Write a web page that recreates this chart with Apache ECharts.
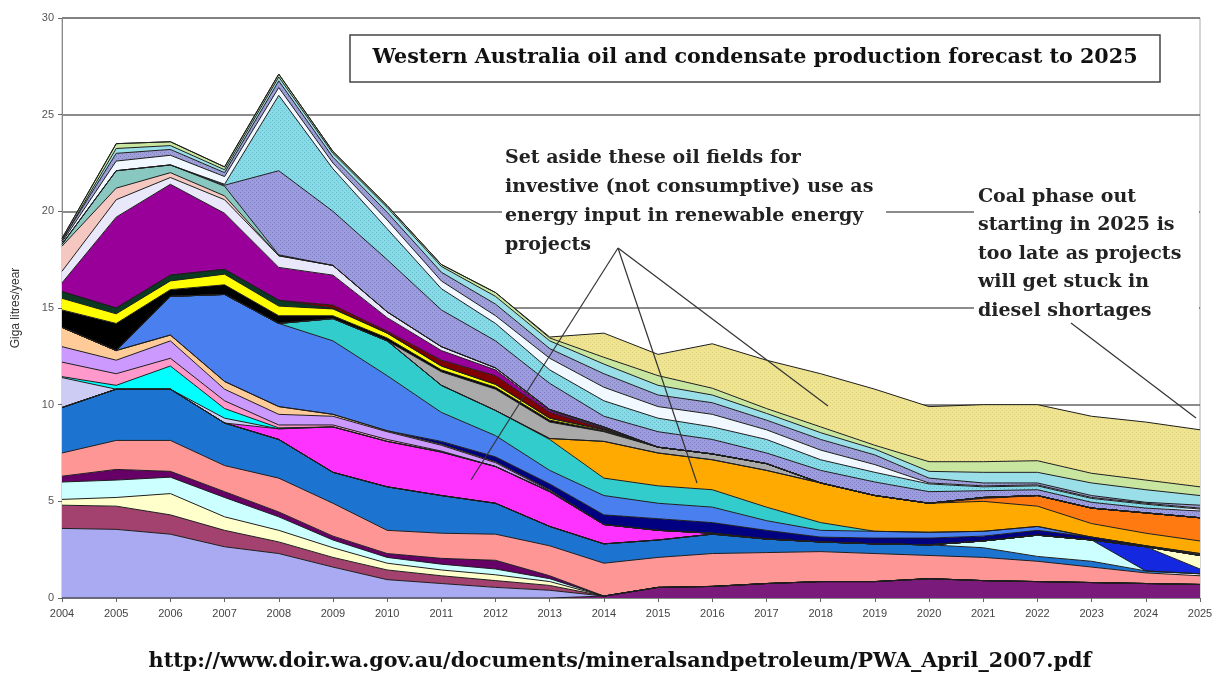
<!DOCTYPE html>
<html><head><meta charset="utf-8">
<script src="https://cdn.jsdelivr.net/npm/echarts@6/dist/echarts.min.js"></script>
<style>html,body{margin:0;padding:0;background:#fff}#c{width:1226px;height:677px}</style>
</head><body><div id="c"></div>
<script>
// Categories
const years = ['2004','2005','2006','2007','2008','2009','2010','2011','2012','2013','2014','2015','2016','2017','2018','2019','2020','2021','2022','2023','2024','2025'];
const yTickValues = [0,5,10,15,20,25,30];

// Cumulative top of each stacked field band (Giga litres/year), bottom band first
const purple2Top = [0,0,0,0,0,0,0,0,0,0,0.1,0.55,0.6,0.75,0.85,0.85,1.0,0.9,0.85,0.8,0.75,0.7];
const lavenderTop = [3.6,3.55,3.3,2.65,2.3,1.6,0.95,0.75,0.55,0.4,0.1,0.55,0.6,0.75,0.85,0.85,1.0,0.9,0.85,0.8,0.75,0.7];
const mauveTop = [4.8,4.75,4.3,3.5,2.9,2.1,1.45,1.15,0.9,0.65,0.1,0.55,0.6,0.75,0.85,0.85,1.0,0.9,0.85,0.8,0.75,0.7];
const lightYellowTop = [5.1,5.2,5.4,4.2,3.5,2.6,1.8,1.45,1.2,0.85,0.1,0.55,0.6,0.75,0.85,0.85,1.0,0.9,0.85,0.8,0.75,0.7];
const lightCyanTop = [6.0,6.1,6.25,5.2,4.2,3.0,2.1,1.75,1.5,1.0,0.1,0.55,0.6,0.75,0.85,0.85,1.0,0.9,0.85,0.8,0.75,0.7];
const darkPurpleTop = [6.3,6.65,6.55,5.5,4.45,3.2,2.3,2.05,1.95,1.15,0.1,0.55,0.6,0.75,0.85,0.85,1.0,0.9,0.85,0.8,0.75,0.7];
const salmonTop = [7.5,8.15,8.15,6.85,6.2,4.9,3.5,3.35,3.3,2.7,1.8,2.1,2.3,2.35,2.4,2.3,2.2,2.1,1.9,1.6,1.3,1.15];
const mediumBlueTop = [9.85,10.8,10.8,9.05,8.2,6.5,5.75,5.3,4.9,3.7,2.8,3.0,3.3,3.05,2.9,2.8,2.75,2.6,2.15,1.9,1.4,1.25];
const lateCyanTop = [9.85,10.8,10.8,9.05,8.2,6.5,5.75,5.3,4.9,3.7,2.8,3.0,3.3,3.05,2.9,2.8,2.75,2.95,3.25,3.0,1.4,1.25];
const royalBlueTop = [9.85,10.8,10.8,9.05,8.2,6.5,5.75,5.3,4.9,3.7,2.8,3.0,3.3,3.05,2.9,2.8,2.75,2.95,3.25,3.0,2.65,1.5];
const lateYellowTop = [9.85,10.8,10.8,9.05,8.2,6.5,5.75,5.3,4.9,3.7,2.8,3.0,3.3,3.05,2.9,2.8,2.75,2.95,3.25,3.0,2.65,2.2];
const magentaTop = [9.85,10.8,10.8,9.05,8.75,8.85,8.1,7.55,6.8,5.5,3.8,3.5,3.35,3.05,2.9,2.8,2.75,2.95,3.25,3.0,2.65,2.2];
const paleLavenderTop = [11.4,10.8,10.8,9.3,8.75,8.85,8.1,7.55,6.8,5.5,3.8,3.5,3.35,3.05,2.9,2.8,2.75,2.95,3.25,3.0,2.65,2.2];
const cyanTop = [11.45,11.0,12.0,9.8,8.8,8.85,8.1,7.55,6.8,5.5,3.8,3.5,3.35,3.05,2.9,2.8,2.75,2.95,3.25,3.0,2.65,2.2];
const pinkTop = [12.2,11.6,12.4,10.2,8.95,8.95,8.2,7.6,6.8,5.5,3.8,3.5,3.35,3.05,2.9,2.8,2.75,2.95,3.25,3.0,2.65,2.2];
const lilacTop = [13.0,12.3,13.3,10.8,9.5,9.4,8.6,7.9,7.0,5.55,3.8,3.5,3.35,3.05,2.9,2.8,2.75,2.95,3.25,3.0,2.65,2.2];
const peachTop = [14.0,12.8,13.6,11.2,9.9,9.5,8.65,7.95,7.05,5.6,3.8,3.5,3.35,3.05,2.9,2.8,2.75,2.95,3.25,3.0,2.65,2.2];
const navyTop = [14.0,12.8,13.6,11.2,9.9,9.5,8.65,8.1,7.3,5.9,4.3,4.1,3.9,3.5,3.15,3.1,3.1,3.2,3.5,3.15,2.7,2.25];
const brightBlueTop = [14.0,12.8,15.6,15.7,14.2,13.3,11.5,9.6,8.4,6.6,5.3,4.9,4.7,4.0,3.5,3.45,3.4,3.45,3.7,3.15,2.7,2.3];
const tealTop = [14.0,12.8,15.6,15.7,14.2,14.45,13.3,11.0,9.7,8.2,6.2,5.8,5.6,4.7,3.9,3.45,3.4,3.45,3.7,3.15,2.7,2.3];
const orangeTop = [14.0,12.8,15.6,15.7,14.2,14.45,13.3,11.0,9.7,8.25,8.1,7.5,7.15,6.6,5.95,5.3,4.9,5.0,4.75,3.85,3.35,2.95];
const darkOrangeTop = [14.0,12.8,15.6,15.7,14.2,14.45,13.3,11.0,9.7,8.25,8.1,7.5,7.15,6.6,5.95,5.3,4.9,5.15,5.3,4.65,4.4,4.15];
const grayTop = [14.0,12.8,15.6,15.7,14.2,14.45,13.3,11.7,10.8,9.1,8.6,7.8,7.45,6.95,5.95,5.3,4.9,5.2,5.3,4.65,4.4,4.15];
const blackTop = [14.9,14.2,15.95,16.2,14.6,14.6,13.45,11.8,10.9,9.2,8.65,7.8,7.45,6.95,5.95,5.3,4.9,5.2,5.3,4.65,4.4,4.15];
const yellowTop = [15.5,14.7,16.4,16.75,15.1,14.95,13.7,12.0,11.05,9.3,8.7,7.8,7.45,6.95,5.95,5.3,4.9,5.2,5.3,4.65,4.4,4.15];
const darkGreenTop = [15.85,15.0,16.7,17.0,15.4,15.0,13.7,12.0,11.05,9.3,8.7,7.8,7.45,6.95,5.95,5.3,4.9,5.2,5.3,4.65,4.4,4.15];
const darkRedTop = [15.85,15.0,16.7,17.0,15.4,15.15,13.8,12.3,11.5,9.6,8.75,7.8,7.45,6.95,5.95,5.3,4.9,5.2,5.3,4.65,4.4,4.15];
const purpleTop = [16.3,19.7,21.4,19.9,17.1,16.7,14.5,12.8,11.8,9.7,8.8,7.8,7.45,6.95,5.95,5.3,4.9,5.2,5.3,4.65,4.4,4.15];
const whiteLavenderTop = [16.9,20.6,21.75,20.6,17.7,17.2,14.8,13.0,11.9,9.75,8.85,7.8,7.45,6.95,5.95,5.3,4.9,5.2,5.3,4.65,4.4,4.15];
const pinkPeachTop = [18.2,21.2,22.0,20.8,17.7,17.2,14.8,13.0,11.9,9.75,8.85,7.8,7.45,6.95,5.95,5.3,4.9,5.2,5.3,4.65,4.4,4.15];
const greyTealTop = [18.3,22.1,22.4,21.3,17.75,17.2,14.8,13.0,11.9,9.75,8.85,7.8,7.45,6.95,5.95,5.3,4.9,5.2,5.3,4.65,4.4,4.15];
const dottedLavenderTop = [18.3,22.1,22.4,21.35,22.1,20.0,17.5,14.9,13.3,11.1,9.4,8.6,8.2,7.5,6.6,6.0,5.5,5.55,5.6,4.95,4.65,4.5];
const dottedCyanTop = [18.3,22.1,22.4,21.4,26.0,22.2,19.1,16.0,14.2,11.8,10.2,9.3,8.85,8.2,7.15,6.5,5.9,5.75,5.8,5.15,4.85,4.6];
const whiteTop = [18.4,22.6,22.9,21.8,26.4,22.5,19.55,16.4,14.6,12.4,10.9,9.9,9.5,8.7,7.65,6.9,5.95,5.8,5.85,5.2,4.9,4.65];
const lavenderStripeTop = [18.5,23.0,23.2,22.0,26.75,22.8,19.95,16.85,15.2,12.9,11.6,10.5,10.1,9.2,8.2,7.4,6.2,5.95,5.95,5.3,4.95,4.8];
const cyanStripeTop = [18.5,23.25,23.4,22.15,26.95,23.0,20.2,17.15,15.6,13.3,12.1,11.0,10.5,9.55,8.55,7.7,6.55,6.5,6.5,5.95,5.6,5.3];
const greenStripeTop = [18.6,23.5,23.6,22.3,27.1,23.1,20.3,17.25,15.8,13.45,12.45,11.5,10.85,9.8,8.85,7.9,7.05,7.05,7.1,6.45,6.1,5.75];
const khakiTop = [18.6,23.5,23.6,22.3,27.1,23.1,20.3,17.25,15.8,13.5,13.7,12.6,13.15,12.3,11.6,10.8,9.9,10.0,10.0,9.4,9.1,8.7];

function pattern(base, dot) {
  const c = document.createElement('canvas'); c.width = 4; c.height = 4;
  const g = c.getContext('2d');
  g.fillStyle = base; g.fillRect(0, 0, 4, 4);
  g.fillStyle = dot; g.fillRect(0, 0, 1, 1); g.fillRect(2, 2, 1, 1);
  return { image: c, repeat: 'repeat' };
}

const layers = [
  ['Field 1', '#7a1a7a', purple2Top],
  ['Field 2', '#aaaaf2', lavenderTop],
  ['Field 3', '#a3426f', mauveTop],
  ['Field 4', '#ffffcc', lightYellowTop],
  ['Field 5', '#ccffff', lightCyanTop],
  ['Field 6', '#660066', darkPurpleTop],
  ['Field 7', '#ff9696', salmonTop],
  ['Field 8', '#1c74d0', mediumBlueTop],
  ['Field 9', '#ccffff', lateCyanTop],
  ['Field 10', '#1428e0', royalBlueTop],
  ['Field 11', '#ffffcc', lateYellowTop],
  ['Field 12', '#ff33ff', magentaTop],
  ['Field 13', '#ccccf4', paleLavenderTop],
  ['Field 14', '#00ffff', cyanTop],
  ['Field 15', '#ff99cc', pinkTop],
  ['Field 16', '#cc99ff', lilacTop],
  ['Field 17', '#ffcc99', peachTop],
  ['Field 18', '#000080', navyTop],
  ['Field 19', '#4a7ff0', brightBlueTop],
  ['Field 20', '#33cccc', tealTop],
  ['Field 21', '#ffaa00', orangeTop],
  ['Field 22', '#ff7a10', darkOrangeTop],
  ['Field 23', '#aaaaaa', grayTop],
  ['Field 24', '#000000', blackTop],
  ['Field 25', '#ffff00', yellowTop],
  ['Field 26', '#0a3a22', darkGreenTop],
  ['Field 27', '#800000', darkRedTop],
  ['Field 28', '#990099', purpleTop],
  ['Field 29', '#e8e8fa', whiteLavenderTop],
  ['Field 30', '#f4c8c0', pinkPeachTop],
  ['Field 31', '#88c8c0', greyTealTop],
  ['Field 32', pattern('#9c9cde', '#7a7ac0'), dottedLavenderTop],
  ['Field 33', pattern('#86dbe6', '#66b8c8'), dottedCyanTop],
  ['Field 34', '#f2f8ff', whiteTop],
  ['Field 35', pattern('#a0a0d8', '#8080c0'), lavenderStripeTop],
  ['Field 36', '#9adfe8', cyanStripeTop],
  ['Field 37', '#c8e6a0', greenStripeTop],
  ['Field 38', pattern('#efe590', '#ddd080'), khakiTop]
];

let prev = years.map(() => 0);
const series = layers.map(([name, color, tops]) => {
  const vals = tops.map((t, i) => +Math.max(0, t - prev[i]).toFixed(3));
  prev = tops.map((t, i) => Math.max(t, prev[i]));
  return {
    name, type: 'line', stack: 'fields', stackStrategy: 'all', symbol: 'none', smooth: false,
    data: vals, lineStyle: { color: '#1e1e1e', width: 1 },
    areaStyle: { color: color, opacity: 1 }, emphasis: { disabled: true }, silent: true
  };
});

const serif = '"DejaVu Serif", "Liberation Serif", serif';
const note1 = ['Set aside these oil fields for', 'investive (not consumptive) use as', 'energy input in renewable energy', 'projects'];
const note2 = ['Coal phase out', 'starting in 2025 is', 'too late as projects', 'will get stuck in', 'diesel shortages'];

const graphics = [
  { type: 'rect', z: 100, shape: { x: 350, y: 35, width: 810, height: 47 }, style: { fill: '#fff', stroke: '#444', lineWidth: 1.5 } },
  { type: 'text', z: 101, style: { text: 'Western Australia oil and condensate production forecast to 2025', x: 755, y: 58, align: 'center', verticalAlign: 'middle', font: 'bold 20.7px ' + serif, fill: '#111' } },
  { type: 'rect', z: 100, shape: { x: 502, y: 140, width: 384, height: 118 }, style: { fill: '#fff' } },
  { type: 'rect', z: 100, shape: { x: 974, y: 180, width: 225, height: 142 }, style: { fill: '#fff' } },
  { type: 'line', z: 102, shape: { x1: 618, y1: 248, x2: 471, y2: 480 }, style: { stroke: '#333', lineWidth: 1.2 } },
  { type: 'line', z: 102, shape: { x1: 618, y1: 248, x2: 697, y2: 483 }, style: { stroke: '#333', lineWidth: 1.2 } },
  { type: 'line', z: 102, shape: { x1: 618, y1: 248, x2: 828, y2: 406 }, style: { stroke: '#333', lineWidth: 1.2 } },
  { type: 'line', z: 102, shape: { x1: 1071, y1: 323, x2: 1196, y2: 418 }, style: { stroke: '#333', lineWidth: 1.2 } },
  { type: 'text', z: 101, style: { text: 'http://www.doir.wa.gov.au/documents/mineralsandpetroleum/PWA_April_2007.pdf', x: 620, y: 662, align: 'center', verticalAlign: 'middle', font: 'bold 20.7px ' + serif, fill: '#111' } }
];
note1.forEach((t, i) => graphics.push({ type: 'text', z: 101, style: { text: t, x: 505, y: 158 + i * 29, verticalAlign: 'middle', font: 'bold 19px ' + serif, fill: '#222' } }));
note2.forEach((t, i) => graphics.push({ type: 'text', z: 101, style: { text: t, x: 978, y: 197 + i * 28.5, verticalAlign: 'middle', font: 'bold 19px ' + serif, fill: '#222' } }));

const chart = echarts.init(document.getElementById('c'), null, { renderer: 'canvas' });
chart.setOption({
  animation: false,
  backgroundColor: '#fff',
  grid: { left: 62, right: 26, top: 18, bottom: 79, show: true, borderColor: '#aaa', borderWidth: 1 },
  xAxis: {
    type: 'category', data: years, boundaryGap: false,
    axisLine: { lineStyle: { color: '#888' } },
    axisTick: { show: true, length: 4, lineStyle: { color: '#666' } },
    axisLabel: { interval: 0, fontSize: 11, color: '#444', margin: 10, fontFamily: 'Liberation Sans, Arial, sans-serif' },
    splitLine: { show: false }
  },
  yAxis: {
    type: 'value', min: yTickValues[0], max: yTickValues[yTickValues.length - 1], interval: 5,
    name: 'Giga litres/year', nameLocation: 'middle', nameGap: 40,
    nameTextStyle: { fontSize: 12, color: '#333', fontFamily: 'Liberation Sans, Arial, sans-serif' },
    axisLine: { show: true, lineStyle: { color: '#888' } },
    axisTick: { show: true, length: 4, lineStyle: { color: '#666' } },
    axisLabel: { fontSize: 11, color: '#555', fontFamily: 'Liberation Sans, Arial, sans-serif' },
    splitLine: { show: true, lineStyle: { color: '#666', width: 1.5 } }
  },
  series: series,
  graphic: graphics
});
</script></body></html>
